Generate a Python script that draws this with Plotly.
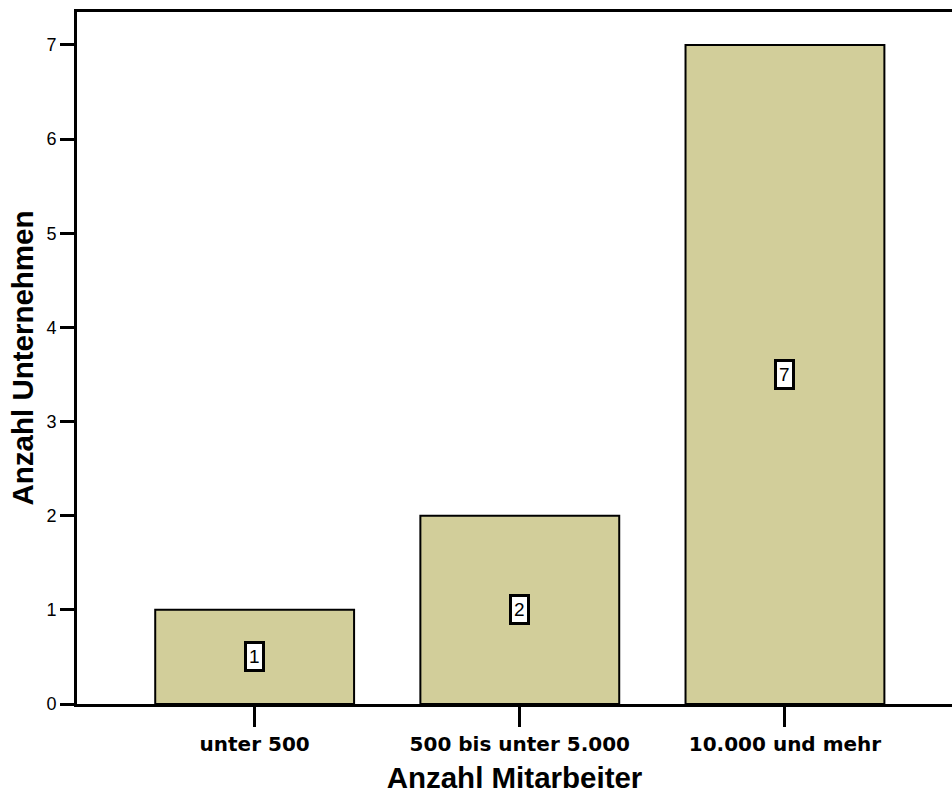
import plotly.graph_objects as go

# Betriebsgrößenklassen und Anzahl der Unternehmen je Klasse
categories = ["unter 500", "500 bis unter 5.000", "10.000 und mehr"]
counts = [1, 2, 7]
y_ticks = [0, 1, 2, 3, 4, 5, 6, 7]

bar_color = "#D2CE9A"
font_family = "Liberation Sans, Arial, sans-serif"

fig = go.Figure()
fig.add_trace(go.Bar(
    x=list(range(len(categories))),
    y=counts,
    width=0.75,
    marker=dict(color=bar_color, line=dict(color="black", width=2)),
    hoverinfo="skip",
))

# Wertelabels als umrandete Kästchen in der Mitte jedes Balkens
for i, v in enumerate(counts):
    fig.add_annotation(
        x=i, y=v / 2, text=str(v), showarrow=False,
        font=dict(family=font_family, size=19, color="black"),
        bgcolor="white", bordercolor="black", borderwidth=3, borderpad=2,
    )

fig.update_layout(
    width=952, height=796,
    margin=dict(l=77, r=0, t=12, b=92),
    paper_bgcolor="white", plot_bgcolor="white",
    showlegend=False,
    font=dict(family=font_family, color="black"),
    xaxis=dict(
        range=[-0.67, 2.63],
        tickvals=list(range(len(categories))),
        ticktext=[f"<b>{c}</b>" for c in categories],
        tickfont=dict(family="DejaVu Sans, sans-serif", size=20),
        ticks="outside", ticklen=20, tickwidth=2.5, tickcolor="black",
        showline=True, linecolor="black", linewidth=3, mirror=True,
        showgrid=False, zeroline=False,
        title=dict(text="<b>Anzahl Mitarbeiter</b>", font=dict(size=29.5), standoff=13),
    ),
    yaxis=dict(
        range=[0, 7.35],
        tickvals=y_ticks,
        tickfont=dict(size=18),
        ticks="outside", ticklen=14, tickwidth=2.5, tickcolor="black",
        showline=True, linecolor="black", linewidth=3,
        showgrid=False, zeroline=False,
        title=dict(text="<b>Anzahl Unternehmen</b>", font=dict(size=29.5), standoff=5),
    ),
)

fig.write_html("out.html")
